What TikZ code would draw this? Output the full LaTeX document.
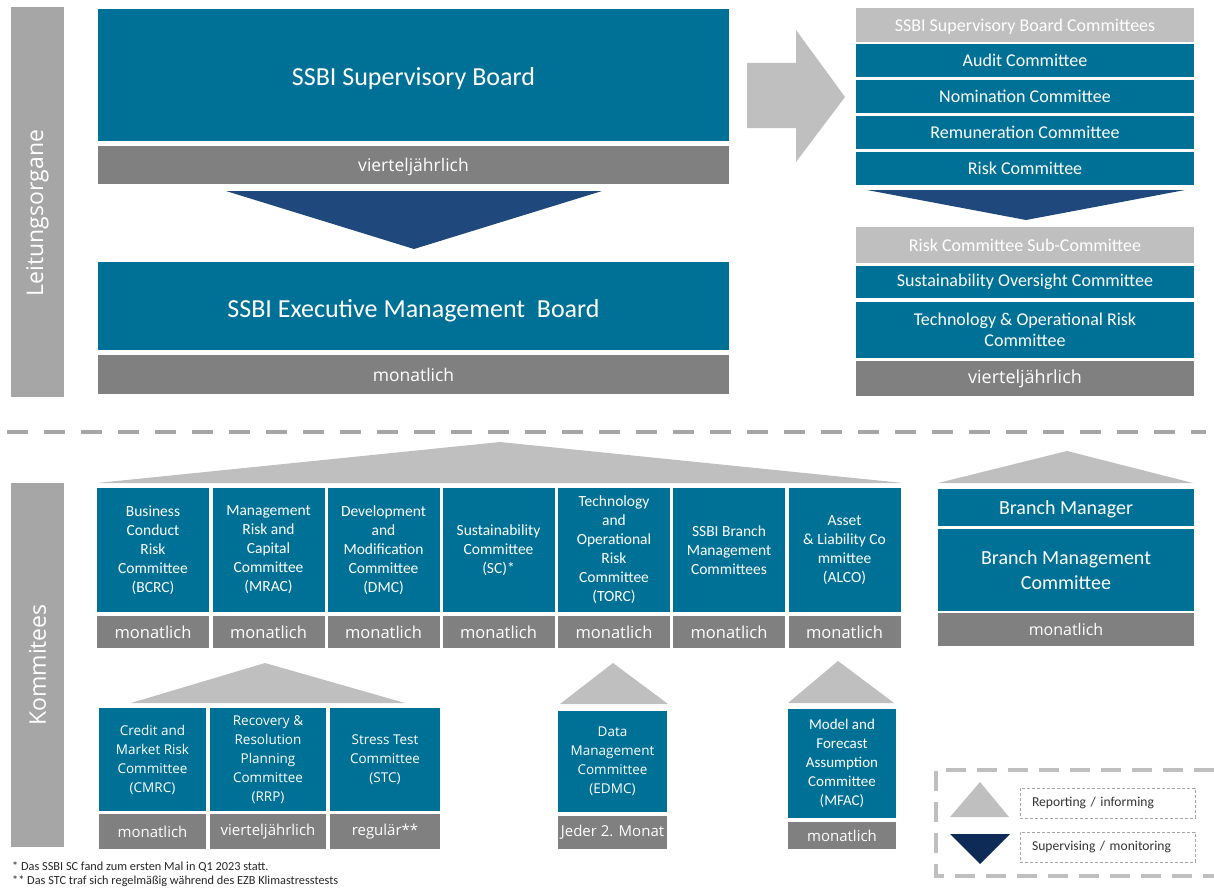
\documentclass[tikz,border=0pt]{standalone}
\usepackage{fontspec}
\setmainfont{Carlito}
\newfontfamily\lightfont{Open Sans}

\definecolor{ssbiTeal}{RGB}{0,113,150}
\definecolor{barGray}{RGB}{128,128,128}
\definecolor{headGray}{RGB}{191,191,191}
\definecolor{sideGray}{RGB}{166,166,166}
\definecolor{superBlue}{RGB}{31,73,125}
\definecolor{legendBlue}{RGB}{14,43,88}

% lower a label without changing its box
\newcommand{\dropText}[2]{\raisebox{-#1}[\height][\depth]{#2}}

\begin{document}
\begin{tikzpicture}[x=1pt,y=-1pt]
	\useasboundingbox (0,0) rectangle (1214,888);
	
	\tikzstyle{board}=[fill=ssbiTeal,text=white,inner sep=0pt,align=center]
	
	\tikzstyle{freq}=[fill=barGray,text=white,inner sep=0pt]
	
	\tikzstyle{head}=[fill=headGray,text=white,inner sep=0pt,minimum width=338pt]
	
	\tikzstyle{side}=[fill=sideGray,text=white,inner sep=0pt,rotate=90,minimum height=53pt,font=\lightfont\fontsize{23}{26}\selectfont]
	
	\tikzstyle{report}=[fill=headGray]
	\tikzstyle{supervise}=[fill=superBlue]
	
	\tikzstyle{legendbox}=[draw=sideGray,densely dashed,thin,inner xsep=12pt,inner ysep=0pt,text width=151pt,minimum height=30pt,align=left,font=\fontsize{13.6}{15}\selectfont,text=black!80]
	
	% side labels
	\node[side,minimum width=390pt](lead) at (37.5,202){Leitungsorgane\hspace*{22pt}};
	\node[side,minimum width=364pt](comm) at (37.5,665){Kommitees};
	
	% boards
	\node[board,minimum width=631pt,minimum height=132pt,font=\fontsize{26}{30}\selectfont](superBoard) at (413.5,75){\dropText{4pt}{SSBI Supervisory Board}};
	\node[freq,minimum width=631pt,minimum height=38pt,font=\lightfont\fontsize{17.5}{20}\selectfont](superFreq) at (413.5,165){\dropText{2pt}{vierteljährlich}};
	\fill[supervise] (226,191) -- (602,191) -- (414,249) -- cycle;
	\node[board,minimum width=631pt,minimum height=88pt,font=\fontsize{26}{30}\selectfont](execBoard) at (413.5,306){\dropText{5pt}{SSBI Executive Management\ \ Board}};
	\node[freq,minimum width=631pt,minimum height=39pt,font=\lightfont\fontsize{17.5}{20}\selectfont](execFreq) at (413.5,374.5){monatlich};
	
	\fill[report] (747,63) -- (796,63) -- (796,30) -- (845,97) -- (796,162) -- (796,128) -- (747,128) -- cycle;
	
	% supervisory board committees
	\tikzstyle{sbc}=[board,minimum width=338pt,font=\fontsize{18}{21}\selectfont]
	\node[head,minimum height=34pt,font=\fontsize{18}{21}\selectfont](sbcHead) at (1025,25){\dropText{2pt}{SSBI Supervisory Board Committees}};
	\node[sbc,minimum height=33pt](audit) at (1025,60.5){Audit Committee};
	\node[sbc,minimum height=33pt](nomination) at (1025,96.5){Nomination Committee};
	\node[sbc,minimum height=33pt](remuneration) at (1025,132.5){Remuneration Committee};
	\node[sbc,minimum height=33pt](risk) at (1025,168.5){Risk Committee};
	\fill[supervise] (867,190) -- (1185,190) -- (1026,220) -- cycle;
	\node[head,minimum height=36pt,font=\fontsize{18}{21}\selectfont](subHead) at (1025,245){Risk Committee Sub-Committee};
	\node[sbc,minimum height=32pt](sustOversight) at (1025,282){Sustainability Oversight Committee};
	\node[sbc,minimum height=56pt](techOpRisk) at (1025,330){Technology \& Operational Risk\\Committee};
	\node[freq,minimum width=338pt,minimum height=35pt,font=\lightfont\fontsize{18}{20}\selectfont](subFreq) at (1025,378.5){vierteljährlich};
	
	\draw[sideGray,line width=4.5pt,dash pattern=on 21pt off 16pt] (7,432) -- (1206,432);
	
	% management committees
	\fill[report] (97,483) -- (500,442) -- (903,483) -- cycle;
	
	\tikzstyle{mc}=[board,minimum width=112pt,minimum height=124pt,font=\fontsize{15.5}{19}\selectfont]
	\tikzstyle{mcFreq}=[freq,minimum width=112pt,minimum height=32pt,font=\lightfont\fontsize{16.5}{19}\selectfont]
	
	\node[mc](bcrc) at (153,550){Business\\Conduct\\Risk\\Committee\\(BCRC)};
	\node[mc](mrac) at (268.5,550){Management\\Risk and\\Capital\\Committee\\(MRAC)};
	\node[mc](dmc) at (383.5,550){Development\\and\\Modification\\Committee\\(DMC)};
	\node[mc](sc) at (498.5,550){Sustainability\\Committee\\(SC)*};
	\node[mc](torc) at (614,550){Technology\\and\\Operational\\Risk\\Committee\\(TORC)};
	\node[mc](branchMC) at (729,550){SSBI Branch\\Management\\Committees};
	\node[mc](alco) at (844.5,550){Asset\\\& Liability Co\\mmittee\\(ALCO)};
	
	\node[mcFreq](bcrcFreq) at (153,632){monatlich};
	\node[mcFreq](mracFreq) at (268.5,632){monatlich};
	\node[mcFreq](dmcFreq) at (383.5,632){monatlich};
	\node[mcFreq](scFreq) at (498.5,632){monatlich};
	\node[mcFreq](torcFreq) at (614,632){monatlich};
	\node[mcFreq](branchMCFreq) at (729,632){monatlich};
	\node[mcFreq](alcoFreq) at (844.5,632){monatlich};
	
	% branch
	\fill[report] (938,483) -- (1067,451) -- (1193,483) -- cycle;
	\node[board,minimum width=256pt,minimum height=37pt,font=\fontsize{20}{25}\selectfont](branchMgr) at (1066,507.5){\dropText{2pt}{Branch Manager}};
	\node[board,minimum width=256pt,minimum height=82pt,font=\fontsize{20}{25}\selectfont](branchCom) at (1066,570){Branch Management\\Committee};
	\node[freq,minimum width=256pt,minimum height=33pt,font=\lightfont\fontsize{16}{19}\selectfont](branchFreq) at (1066,629.5){monatlich};
	
	% sub committees
	\tikzstyle{sub}=[board,minimum height=103pt,font=\lightfont\fontsize{13.5}{19}\selectfont]
	\tikzstyle{subFreq}=[freq,minimum height=35pt,font=\lightfont\fontsize{15}{18}\selectfont]
	
	\fill[report] (131,703) -- (265,663) -- (405,703) -- cycle;
	\node[sub,minimum width=107pt](cmrc) at (152.5,759.5){Credit and\\Market Risk\\Committee\\(CMRC)};
	\node[sub,minimum width=116pt](rrp) at (268,759.5){Recovery \&\\Resolution\\Planning\\Committee\\(RRP)};
	\node[sub,minimum width=110pt](stc) at (385,759.5){Stress Test\\Committee\\(STC)};
	\node[subFreq,minimum width=107pt](cmrcFreq) at (152.5,831.5){monatlich};
	\node[subFreq,minimum width=116pt](rrpFreq) at (268,831.5){vierteljährlich};
	\node[subFreq,minimum width=110pt](stcFreq) at (385,831.5){regulär**};
	
	\fill[report] (560,704) -- (613,663) -- (668,704) -- cycle;
	\node[sub,minimum width=109pt,minimum height=101pt](edmc) at (612.5,761.5){Data\\Management\\Committee\\(EDMC)};
	\node[subFreq,minimum width=109pt,minimum height=33pt](edmcFreq) at (612.5,832.5){Jeder 2. Monat};
	
	\fill[report] (788,703) -- (838,661) -- (894,703) -- cycle;
	\node[board,minimum width=108pt,minimum height=109pt,font=\fontsize{15}{19}\selectfont](mfac) at (842,763.5){Model and\\Forecast\\Assumption\\Committee\\(MFAC)};
	\node[subFreq,minimum width=108pt,minimum height=27pt](mfacFreq) at (842,835.5){monatlich};
	
	% legend
	\draw[headGray,line width=4pt,dash pattern=on 20pt off 11pt] (1214,770) -- (936,770) -- (936,876) -- (1214,876);
	\fill[report] (950,817) -- (980,782) -- (1009,817) -- cycle;
	\fill[legendBlue] (950,834) -- (1010,834) -- (980,864) -- cycle;
	\node[legendbox](reportKey) at (1107.5,803){Reporting / informing};
	\node[legendbox](superviseKey) at (1107.5,847){Supervising / monitoring};
	
	% footnotes
	\node[anchor=west,inner sep=0pt,font=\fontsize{12.3}{14}\selectfont,text=black!85](noteOne) at (12,867){* Das SSBI SC fand zum ersten Mal in Q1 2023 statt.};
	\node[anchor=west,inner sep=0pt,font=\fontsize{12.3}{14}\selectfont,text=black!85](noteTwo) at (12,881){** Das STC traf sich regelmäßig während des EZB Klimastresstests};
	
\end{tikzpicture}
\end{document}
